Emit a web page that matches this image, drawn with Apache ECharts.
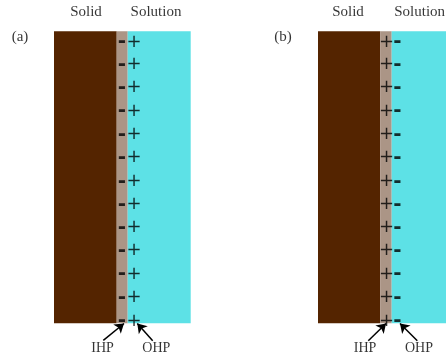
<!DOCTYPE html>
<html><head><meta charset="utf-8">
<script src="https://cdn.jsdelivr.net/npm/echarts@6/dist/echarts.min.js"></script>
<style>html,body{margin:0;padding:0;background:#fff}#c{width:446px;height:358px}</style>
</head><body><div id="c"></div>
<script>
// ---- data (units: drawing units on a 446 x 358 canvas) ----
const panelNames = ['(a)', '(b)'];
const panelTagX = [20, 283];
const panelTagY = 37;
// layer boundaries per panel: solid-left, solid/IHP, IHP/OHP, solution-right
const edgesA = [54, 116.7, 127.7, 190.7];
const edgesB = [318, 380.3, 391.7, 446];
const layerTop = 31.3;
const layerBottom = 323.3;
const layerNames = ['Solid', 'Inner layer', 'Solution'];
const layerColors = ['#542400', '#ab9586', '#5de1e6'];
// ion rows (centres)
const rowY = [42, 64.3, 87.7, 111, 134.3, 157.7, 181.3, 204.3, 227.3, 250.7, 274, 297.7, 321];
// sign columns per panel: [IHP sign x, OHP sign x]
const signXA = [122, 134];
const signXB = [386.6, 397.5];
const signsA = ['-', '+'];
const signsB = ['+', '-'];
// header labels
const headerText = ['Solid', 'Solution', 'Solid', 'Solution'];
const headerX = [86, 156, 348, 419.7];
const headerY = 12;
// plane labels and arrows
const planeText = ['IHP', 'OHP', 'IHP', 'OHP'];
const planeLabelX = [102.5, 156.3, 365, 419];
const planeLabelY = 348;
const arrowTail = [[103.3, 340.3], [152.7, 340.7], [368.3, 340.7], [417.3, 340.7]];
const arrowTip = [[124, 323.5], [137.3, 323.5], [386, 323.5], [400, 323.5]];

// ---- build options ----
const rects = [];
[edgesA, edgesB].forEach(e => {
  for (let i = 0; i < 3; i++) rects.push([e[i], e[i + 1], layerTop, layerBottom, i]);
});
const minusLabel = { fontFamily: 'DejaVu Sans', fontSize: 20, fontWeight: 'bold' };
const signData = [];
[[signXA, signsA], [signXB, signsB]].forEach(([xs, ss]) => {
  rowY.forEach(y => {
    [0, 1].forEach(k => {
      const item = { value: [xs[k], y], name: ss[k] };
      if (ss[k] === '-') item.label = minusLabel;
      signData.push(item);
    });
  });
});
const textData = [];
headerText.forEach((t, i) => textData.push({ value: [headerX[i], headerY], name: t }));
panelNames.forEach((t, i) => textData.push({ value: [panelTagX[i], panelTagY], name: t }));
planeText.forEach((t, i) => textData.push({ value: [planeLabelX[i], planeLabelY], name: t, label: { fontSize: 14 } }));
const arrowData = arrowTail.map((t, i) => ({ coords: [t, arrowTip[i]] }));

const chart = echarts.init(document.getElementById('c'), null, { renderer: 'canvas' });
chart.setOption({
  animation: false,
  backgroundColor: '#ffffff',
  grid: { left: 0, right: 0, top: 0, bottom: 0 },
  xAxis: { type: 'value', min: 0, max: 446, show: false },
  yAxis: { type: 'value', min: 0, max: 358, inverse: true, show: false },
  series: [
    {
      type: 'custom',
      name: 'layers',
      data: rects,
      renderItem: function (params, api) {
        const p0 = api.coord([api.value(0), api.value(2)]);
        const p1 = api.coord([api.value(1), api.value(3)]);
        return {
          type: 'rect',
          shape: { x: p0[0], y: p0[1], width: p1[0] - p0[0], height: p1[1] - p0[1] },
          style: { fill: layerColors[api.value(4)] }
        };
      },
      z: 1
    },
    {
      type: 'scatter',
      name: 'signs',
      data: signData,
      symbolSize: 0,
      z: 3,
      label: {
        show: true, position: 'inside', formatter: p => p.name,
        fontFamily: 'DejaVu Sans', fontSize: 18, color: '#000', fontWeight: 'normal'
      }
    },
    {
      type: 'scatter',
      name: 'text',
      data: textData,
      symbolSize: 0,
      z: 3,
      label: {
        show: true, position: 'inside',
        formatter: p => p.name,
        fontFamily: 'Liberation Serif', fontSize: 15, color: '#000'
      }
    },
    {
      type: 'lines',
      coordinateSystem: 'cartesian2d',
      data: arrowData,
      symbol: ['none', 'arrow'],
      symbolSize: [7, 9],
      lineStyle: { color: '#000', width: 1.5, opacity: 1 },
      z: 4
    }
  ]
});
</script></body></html>
